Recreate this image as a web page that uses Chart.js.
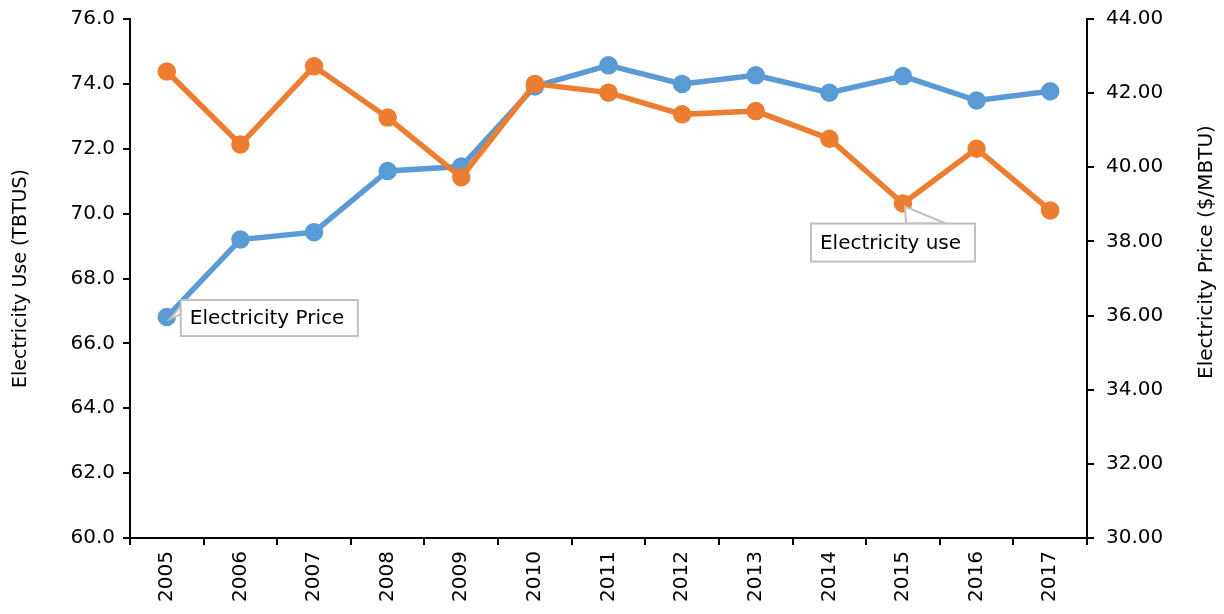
<!DOCTYPE html>
<html>
<head>
<meta charset="utf-8">
<script src="https://cdn.jsdelivr.net/npm/chart.js@4"></script>
<style>
  html, body { margin: 0; padding: 0; background: #fff; overflow: hidden; }
  #wrap { width: 1224px; height: 614px; overflow: hidden; position: relative; }
  #chart { position: absolute; left: 0; top: -5px; }
</style>
</head>
<body>
<div id="wrap"><canvas id="chart" width="1224" height="619"></canvas></div>
<script>
// === Data ===
const years = ["2005", "2006", "2007", "2008", "2009", "2010", "2011", "2012", "2013", "2014", "2015", "2016", "2017"];
const electricityUse = [74.38, 72.13, 74.54, 72.96, 71.12, 74.0, 73.73, 73.06, 73.16, 72.31, 70.31, 72.0, 70.10];
const electricityPrice = [35.96, 38.05, 38.25, 39.90, 40.02, 42.18, 42.75, 42.25, 42.48, 42.01, 42.46, 41.80, 42.05];
const useTicks = [60, 76, 2];
const priceTicks = [30, 44, 2];

const FONT = "DejaVu Sans";
const ORANGE = "#ED7D31";
const BLUE = "#5B9BD5";

// callout box next to a point
function callout(ctx, pt, text, box, wedge) {
    ctx.save();
    ctx.font = "20px '" + FONT + "'";
    ctx.lineWidth = 2;
    ctx.strokeStyle = "#BFBFBF";
    ctx.fillStyle = "#fff";
    // leader wedge
    ctx.beginPath();
    ctx.moveTo(pt.x + wedge[0][0], pt.y + wedge[0][1]);
    ctx.lineTo(box.x + wedge[1][0], box.y + wedge[1][1]);
    ctx.lineTo(box.x + wedge[2][0], box.y + wedge[2][1]);
    ctx.closePath();
    ctx.fill();
    ctx.stroke();
    ctx.fillRect(box.x, box.y, box.w, box.h);
    ctx.strokeRect(box.x, box.y, box.w, box.h);
    ctx.fillStyle = "#000";
    ctx.textBaseline = "middle";
    ctx.fillText(text, box.x + 9, box.y + box.h / 2 + 1);
    ctx.restore();
}

const calloutPlugin = {
    id: "callouts",
    afterDatasetsDraw(chart) {
        const ctx = chart.ctx;
        const p = chart.getDatasetMeta(1).data[0];
        callout(ctx, p, "Electricity Price",
            { x: p.x + 14, y: p.y - 17, w: 177, h: 36 },
            [[3, 2], [0, 6], [0, 14]]);
        const q = chart.getDatasetMeta(0).data[10];
        callout(ctx, q, "Electricity use",
            { x: q.x - 92, y: q.y + 20, w: 164, h: 38 },
            [[2, 3], [95, 0], [135, 0]]);

        // right axis title, reading bottom to top like the left one
        ctx.save();
        ctx.font = "20px '" + FONT + "'";
        ctx.fillStyle = "#000";
        ctx.textAlign = "center";
        ctx.textBaseline = "middle";
        ctx.translate(1207, 257);
        ctx.rotate(-Math.PI / 2);
        ctx.fillText("Electricity Price ($/MBTU)", 0, 0);
        ctx.restore();
    }
};

new Chart(document.getElementById("chart"), {
    type: "line",
    data: {
        labels: years,
        datasets: [{
            label: "Electricity use",
            data: electricityUse,
            yAxisID: "yUse",
            borderColor: ORANGE,
            backgroundColor: ORANGE,
            borderWidth: 5.5,
            pointRadius: 6.5,
            tension: 0
        }, {
            label: "Electricity Price",
            data: electricityPrice,
            yAxisID: "yPrice",
            borderColor: BLUE,
            backgroundColor: BLUE,
            borderWidth: 5.5,
            pointRadius: 6.5,
            tension: 0
        }]
    },
    options: {
        responsive: false,
        animation: false,
        layout: { padding: { top: 13, left: 0, right: 0, bottom: 0 } },
        plugins: { legend: { display: false }, tooltip: { enabled: false } },
        scales: {
            x: {
                offset: true,
                grid: { offset: true, drawOnChartArea: false, color: "#000", tickLength: 7, lineWidth: 2 },
                border: { color: "#000", width: 2 },
                ticks: { color: "#000", font: { family: FONT, size: 20 }, minRotation: 90, maxRotation: 90, padding: 6 },
                afterFit: s => { s.height = 76; }
            },
            yUse: {
                position: "left",
                min: useTicks[0], max: useTicks[1],
                grid: { drawOnChartArea: false, color: "#000", tickLength: 7, lineWidth: 2 },
                border: { color: "#000", width: 2 },
                ticks: { stepSize: useTicks[2], color: "#000", font: { family: FONT, size: 20 }, padding: 8,
                         callback: v => v.toFixed(1) },
                title: { display: true, text: "Electricity Use (TBTUS)", color: "#000",
                         font: { family: FONT, size: 19 }, padding: { top: 10, bottom: 0 } },
                afterFit: s => { s.width = 130; }
            },
            yPrice: {
                position: "right",
                min: priceTicks[0], max: priceTicks[1],
                grid: { drawOnChartArea: false, color: "#000", tickLength: 7, lineWidth: 2 },
                border: { color: "#000", width: 2 },
                ticks: { stepSize: priceTicks[2], color: "#000", font: { family: FONT, size: 20 }, padding: 12,
                         callback: v => v.toFixed(2) },
                afterFit: s => { s.width = 137; }
            }
        }
    },
    plugins: [calloutPlugin]
});
</script>
</body>
</html>
